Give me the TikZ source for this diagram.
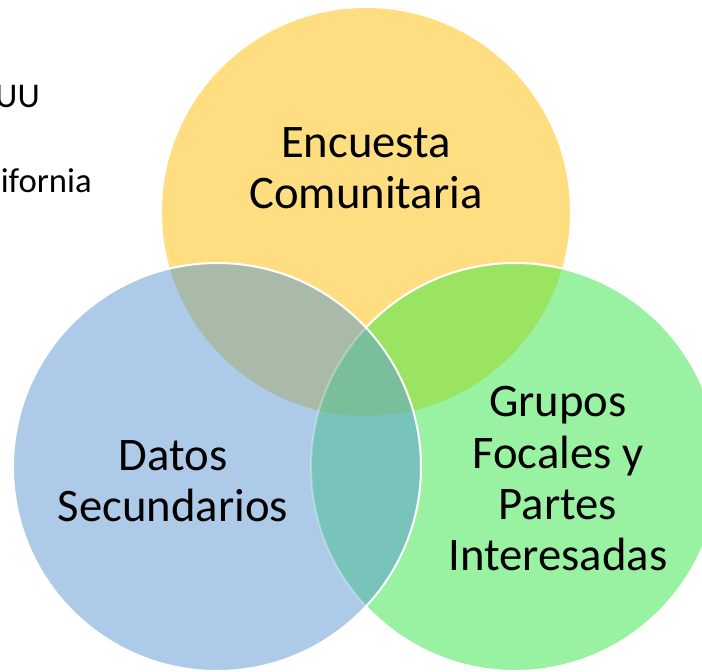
\documentclass[tikz,border=0pt]{standalone}
\usepackage{fontspec}
\setmainfont{Carlito}
\definecolor{cy}{HTML}{FFDE82}
\definecolor{cg}{HTML}{99F2A1}
\definecolor{cb}{HTML}{ADCBE8}
\definecolor{cyg}{HTML}{9AE462}
\definecolor{cyb}{HTML}{AABAA9}
\definecolor{cgb}{HTML}{78C4BA}
\definecolor{cygb}{HTML}{7BBE9B}
\tikzset{
  lbl/.style={font=\fontsize{35}{38.5}\selectfont, align=center, text=black, inner sep=0pt},
  side/.style={font=\fontsize{26}{30}\selectfont, text=black, inner sep=0pt},
  rim/.style={draw=white, line width=1.5pt},
}
\begin{document}
\begin{tikzpicture}[x=0.75pt,y=-0.75pt]
\useasboundingbox (0,0) rectangle (702,671);
\clip (0,0) rectangle (702,671);
\coordinate (Yc) at (366,212);
\coordinate (Gc) at (515,467);
\coordinate (Bc) at (217,467);
\def\R{153pt}
% left partial texts
\node[side, anchor=base east] (t1) at (40,107) {UU};
\node[side, anchor=base east] (t2) at (92,192) {ifornia};
% yellow
\fill[cy] (Yc) circle[radius=\R];
% green
\fill[cg] (Gc) circle[radius=\R];
\begin{scope}
  \clip (Yc) circle[radius=\R];
  \fill[cyg] (Gc) circle[radius=\R];
\end{scope}
\draw[rim] (Gc) circle[radius=\R];
% blue
\fill[cb] (Bc) circle[radius=\R];
\begin{scope}
  \clip (Bc) circle[radius=\R];
  \fill[cyb] (Yc) circle[radius=\R];
  \fill[cgb] (Gc) circle[radius=\R];
  \clip (Yc) circle[radius=\R];
  \fill[cygb] (Gc) circle[radius=\R];
\end{scope}
\begin{scope}
  \clip (Bc) circle[radius=\R];
  \draw[draw=white, opacity=0.3, line width=1.5pt] (Gc) circle[radius=\R];
\end{scope}
\draw[rim] (Bc) circle[radius=\R];
% labels
\node[lbl] (enc) at (366,168.5) {Encuesta\\Comunitaria};
\node[lbl] (dat) at (173,481.5) {Datos\\Secundarios};
\node[lbl] (gru) at (558,479) {Grupos\\Focales y\\Partes\\Interesadas};
\end{tikzpicture}
\end{document}
